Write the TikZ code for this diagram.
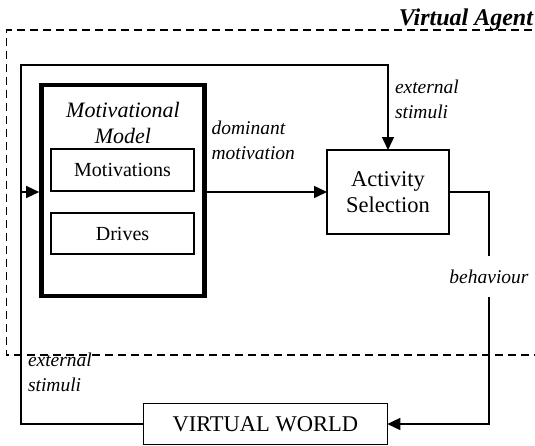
\documentclass[tikz,border=0pt]{standalone}
\usepackage{fontspec}
\setmainfont{Liberation Serif}
\usetikzlibrary{arrows.meta}

\begin{document}
\begin{tikzpicture}[x=1pt, y=-1pt, line width=1.5pt,
  every node/.style={inner sep=0pt, outer sep=0pt},
  box/.style={draw, align=center, font=\fontsize{22.5}{26}\selectfont},
  smallbox/.style={draw, minimum width=143pt, minimum height=42pt, font=\fontsize{20}{24}\selectfont},
  lab/.style={anchor=west, align=left, font=\fontsize{19.5}{25}\selectfont\itshape},
  tip/.style={-{Triangle[length=13pt,width=12pt]}}]
\useasboundingbox (0,0) rectangle (535,445);

\node[anchor=base east, font=\fontsize{24}{28}\selectfont\bfseries\itshape] (agent) at (533,25) {Virtual Agent};
\draw[line width=1.4pt, dash pattern=on 8pt off 5pt] (545,30) -- (6.7,30) -- (6.7,355) -- (545,355);

\node[draw, line width=4.7pt, minimum width=163pt, minimum height=211pt] (model) at (123,190.5) {};
\node[align=center, font=\fontsize{22}{26}\selectfont\itshape] (modeltitle) at (123,122.5) {Motivational\\Model};
\node[smallbox] (motiv) at (122.5,170) {Motivations};
\node[smallbox, minimum height=41pt] (drives) at (122.5,233.5) {Drives};

\node[box, minimum width=122pt, minimum height=84pt] (act) at (388,192) {Activity\\Selection};
\node[box, minimum width=244pt, minimum height=41pt] (world) at (265.3,424) {VIRTUAL WORLD};
\node[font=\fontsize{19.5}{23}\selectfont\itshape, minimum height=41pt] (beh) at (489,276.5) {behaviour};

\node[lab] (domlab) at (211.5,140.5) {dominant\\motivation};
\node[lab] (extlab) at (395,99.5) {external\\stimuli};
\node[lab] (extlab2) at (28,372.5) {external\\stimuli};

\coordinate (loop) at (21,65);
\coordinate (split) at (21,192);

\draw[tip] (world.west) -| (loop) -| (act.north);
\draw[tip, shorten >=2.3pt] (split) -- (split -| model.west);
\draw[tip] (act.west -| model.east) -- (act.west);
\draw (act.east) -| (beh.north);
\draw[tip] (beh.south) |- (world.east);
\end{tikzpicture}
\end{document}
